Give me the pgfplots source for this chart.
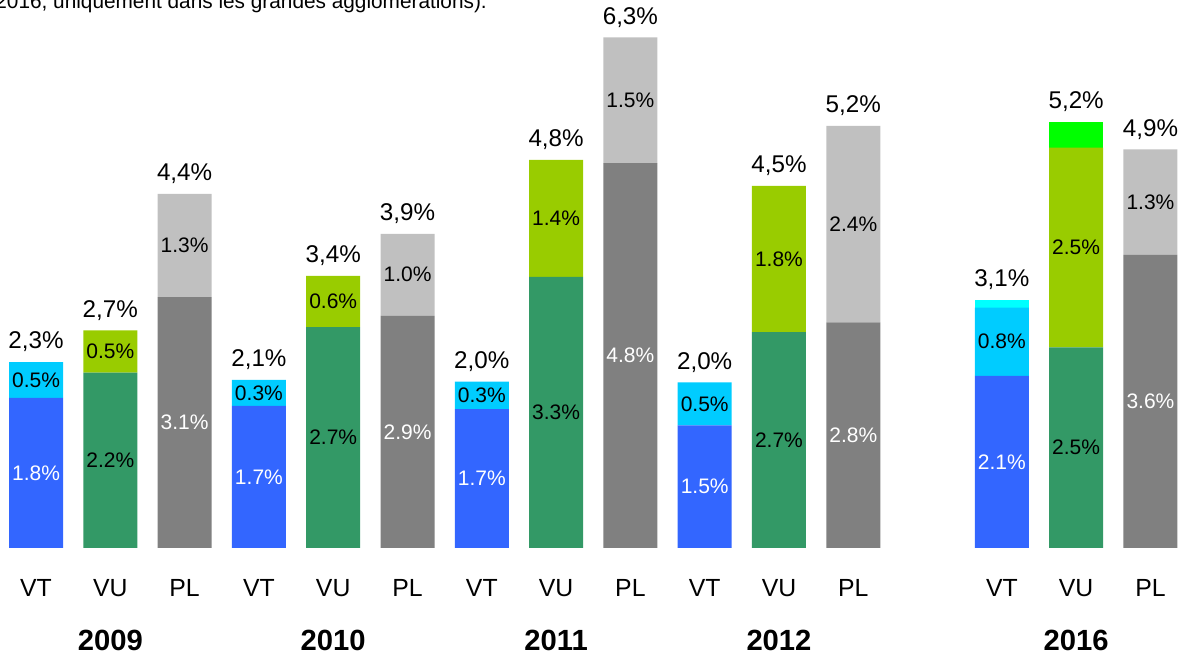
\documentclass[border=0pt]{standalone}
\usepackage{pgfplots}
\usepackage{pgfplotstable}
\pgfplotsset{compat=1.18}
\usepackage{fontspec}
\setmainfont{Liberation Sans}
\definecolor{vtb}{HTML}{3366FF}
\definecolor{vtt}{HTML}{00CCFF}
\definecolor{vtx}{HTML}{00FFFF}
\definecolor{vub}{HTML}{339966}
\definecolor{vut}{HTML}{99CC00}
\definecolor{vux}{HTML}{00FF00}
\definecolor{plb}{HTML}{808080}
\definecolor{plt}{HTML}{C0C0C0}
\pgfplotstableread{
x  vtb  vub  plb  vtt  vut  plt  vtx  vux
0  1.85 0    0    0.44 0    0    0    0
1  0    2.16 0    0    0.52 0    0    0
2  0    0    3.09 0    0    1.27 0    0
3  1.75 0    0    0.32 0    0    0    0
4  0    2.72 0    0    0.63 0    0    0
5  0    0    2.86 0    0    1.01 0    0
6  1.71 0    0    0.34 0    0    0    0
7  0    3.34 0    0    1.44 0    0    0
8  0    0    4.74 0    0    1.55 0    0
9  1.51 0    0    0.53 0    0    0    0
10 0    2.66 0    0    1.80 0    0    0
11 0    0    2.78 0    0    2.42 0    0
13 2.12 0    0    0.84 0    0    0.10 0
14 0    2.47 0    0    2.46 0    0    0.32
15 0    0    3.61 0    0    1.30 0    0
}\data
\pgfplotsset{common/.style={
  at={(0pt,0pt)}, anchor=south west,
  scale only axis, width=592.5pt, height=274pt,
  xmin=-0.485, xmax=15.465, ymin=0, ymax=6.749,
  enlargelimits=false, clip=false}}
\begin{document}
\begin{tikzpicture}[
  lw/.style={font=\fontsize{10.5}{12}\selectfont, text=white, inner sep=0pt},
  lb/.style={font=\fontsize{10.5}{12}\selectfont, text=black, inner sep=0pt},
  tot/.style={font=\fontsize{12.1}{14}\selectfont, text=black, inner sep=0pt, yshift=10pt},
  yr/.style={font=\bfseries\fontsize{14.6}{17}\selectfont, inner sep=0pt, yshift=-46pt},
]
\begin{axis}[
  common,
  ybar stacked, bar width=27pt,
  axis line style={draw=none},
  major tick length=0pt,
  ytick=\empty,
  xtick={0,1,2,3,4,5,6,7,8,9,10,11,13,14,15},
  xticklabels={VT,VU,PL,VT,VU,PL,VT,VU,PL,VT,VU,PL,VT,VU,PL},
  xticklabel style={font=\fontsize{12.4}{14}\selectfont, anchor=center, yshift=-20pt},
  every axis plot/.append style={draw=none},
]
\addplot[fill=vtb] table[x=x,y=vtb]{\data};
\addplot[fill=vub] table[x=x,y=vub]{\data};
\addplot[fill=plb] table[x=x,y=plb]{\data};
\addplot[fill=vtt] table[x=x,y=vtt]{\data};
\addplot[fill=vut] table[x=x,y=vut]{\data};
\addplot[fill=plt] table[x=x,y=plt]{\data};
\addplot[fill=vtx] table[x=x,y=vtx]{\data};
\addplot[fill=vux] table[x=x,y=vux]{\data};
\end{axis}
\begin{axis}[common, hide axis]
% VT
\node[lw] at (axis cs:0,0.925) {1.8\%};
\node[lb] at (axis cs:0,2.07) {0.5\%};
\node[tot] at (axis cs:0,2.29) {2,3\%};
\node[lw] at (axis cs:3,0.875) {1.7\%};
\node[lb] at (axis cs:3,1.91) {0.3\%};
\node[tot] at (axis cs:3,2.07) {2,1\%};
\node[lw] at (axis cs:6,0.855) {1.7\%};
\node[lb] at (axis cs:6,1.88) {0.3\%};
\node[tot] at (axis cs:6,2.05) {2,0\%};
\node[lw] at (axis cs:9,0.755) {1.5\%};
\node[lb] at (axis cs:9,1.775) {0.5\%};
\node[tot] at (axis cs:9,2.04) {2,0\%};
\node[lw] at (axis cs:13,1.06) {2.1\%};
\node[lb] at (axis cs:13,2.54) {0.8\%};
\node[tot] at (axis cs:13,3.06) {3,1\%};
% VU
\node[lb] at (axis cs:1,1.08) {2.2\%};
\node[lb] at (axis cs:1,2.42) {0.5\%};
\node[tot] at (axis cs:1,2.68) {2,7\%};
\node[lb] at (axis cs:4,1.36) {2.7\%};
\node[lb] at (axis cs:4,3.035) {0.6\%};
\node[tot] at (axis cs:4,3.35) {3,4\%};
\node[lb] at (axis cs:7,1.67) {3.3\%};
\node[lb] at (axis cs:7,4.06) {1.4\%};
\node[tot] at (axis cs:7,4.78) {4,8\%};
\node[lb] at (axis cs:10,1.33) {2.7\%};
\node[lb] at (axis cs:10,3.56) {1.8\%};
\node[tot] at (axis cs:10,4.46) {4,5\%};
\node[lb] at (axis cs:14,1.235) {2.5\%};
\node[lb] at (axis cs:14,3.70) {2.5\%};
\node[tot] at (axis cs:14,5.25) {5,2\%};
% PL
\node[lw] at (axis cs:2,1.545) {3.1\%};
\node[lb] at (axis cs:2,3.725) {1.3\%};
\node[tot] at (axis cs:2,4.36) {4,4\%};
\node[lw] at (axis cs:5,1.43) {2.9\%};
\node[lb] at (axis cs:5,3.365) {1.0\%};
\node[tot] at (axis cs:5,3.87) {3,9\%};
\node[lw] at (axis cs:8,2.37) {4.8\%};
\node[lb] at (axis cs:8,5.515) {1.5\%};
\node[tot] at (axis cs:8,6.29) {6,3\%};
\node[lw] at (axis cs:11,1.39) {2.8\%};
\node[lb] at (axis cs:11,3.99) {2.4\%};
\node[tot] at (axis cs:11,5.20) {5,2\%};
\node[lw] at (axis cs:15,1.805) {3.6\%};
\node[lb] at (axis cs:15,4.26) {1.3\%};
\node[tot] at (axis cs:15,4.91) {4,9\%};
% years
\node[yr] at (axis cs:1,0) {2009};
\node[yr] at (axis cs:4,0) {2010};
\node[yr] at (axis cs:7,0) {2011};
\node[yr] at (axis cs:10,0) {2012};
\node[yr] at (axis cs:14,0) {2016};
\end{axis}
\node[anchor=base west, inner sep=0pt, font=\fontsize{10.4}{12}\selectfont] at (-2.5pt,269.5pt) {2016, uniquement dans les grandes agglomérations).};
\pgfresetboundingbox
\path[use as bounding box] (0pt,-54.5pt) rectangle (592.5pt,274pt);
\end{tikzpicture}
\end{document}
